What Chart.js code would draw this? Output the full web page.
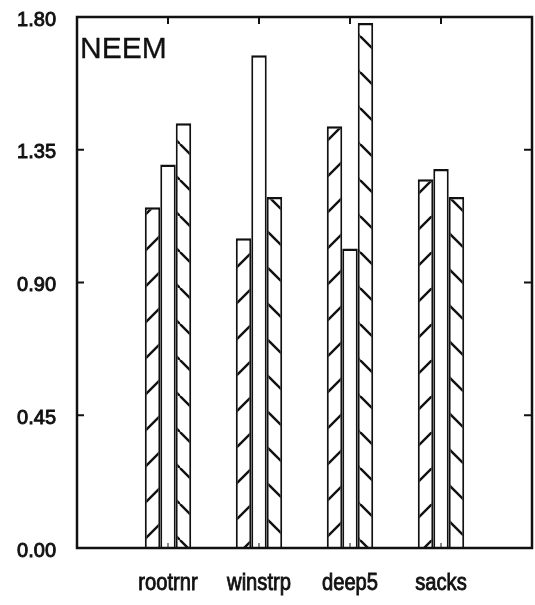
<!DOCTYPE html>
<html>
<head>
<meta charset="utf-8">
<title>NEEM</title>
<script src="https://cdn.jsdelivr.net/npm/chart.js@4.4.0/dist/chart.umd.min.js"></script>
<style>
  html, body { margin: 0; padding: 0; background: #fff; }
  canvas { display: block; }
</style>
</head>
<body>
<canvas id="chart" width="535" height="605"></canvas>
<script>
// NEEM: three treatments per site
const categories = ['rootrnr', 'winstrp', 'deep5', 'sacks'];
const seriesA = [1.155, 1.05, 1.43, 1.25];   // rising stripes
const seriesB = [1.30, 1.67, 1.015, 1.285];  // open bars
const seriesC = [1.44, 1.19, 1.78, 1.19];    // falling stripes
const yTicks = [0, 0.45, 0.90, 1.35, 1.80];
const panelTitle = 'NEEM';

const INK = '#111';
const FONT = '"Liberation Sans", Arial, sans-serif';

const canvas = document.getElementById('chart');
const ctx = canvas.getContext('2d');

// diagonal stripe fill, dir > 0 rises to the right
function hatch(dir) {
    const size = 36;
    const tile = document.createElement('canvas');
    tile.width = size;
    tile.height = size;
    const g = tile.getContext('2d');
    g.fillStyle = '#fff';
    g.fillRect(0, 0, size, size);
    g.strokeStyle = INK;
    g.lineWidth = 2.4;
    for (let k = -1; k <= 1; k++) {
        g.beginPath();
        if (dir > 0) {
            g.moveTo(k * size, size);
            g.lineTo(k * size + size, 0);
        } else {
            g.moveTo(k * size, 0);
            g.lineTo(k * size + size, size);
        }
        g.stroke();
    }
    return ctx.createPattern(tile, 'repeat');
}

// empty slots at both ends put the sites at 1..4 on a 0..5 axis
const labels = ['', ...categories, ''];
const pad = arr => [null, ...arr, null];

const barStyle = {
    borderColor: INK,
    borderWidth: { top: 2.5, left: 2, right: 2, bottom: 0 },
    borderSkipped: false,
    categoryPercentage: 0.51,
    barPercentage: 1.0
};

function line(c, x1, y1, x2, y2) {
    c.beginPath();
    c.moveTo(x1, y1);
    c.lineTo(x2, y2);
    c.stroke();
}

function noPadding(s) {
    s.paddingTop = 0;
    s.paddingBottom = 0;
    s.paddingLeft = 0;
    s.paddingRight = 0;
}

function inkText(c, text, px, py) {
    c.fillText(text, px, py);
    c.strokeText(text, px, py);
}

// box, inward ticks, site names and panel title
const framePlugin = {
    id: 'frame',
    afterDatasetsDraw(chart) {
        const { ctx: c, chartArea: a, scales: { x, y } } = chart;
        c.save();
        c.strokeStyle = INK;
        c.lineWidth = 2.5;
        c.strokeRect(a.left, a.top, a.right - a.left, a.bottom - a.top);

        c.lineWidth = 2;
        yTicks.slice(1, -1).forEach(v => {
            const py = y.getPixelForValue(v);
            line(c, a.left, py, a.left + 7, py);
            line(c, a.right, py, a.right - 8, py);
        });
        categories.forEach((_, i) => {
            const px = x.getPixelForValue(i + 1);
            c.lineWidth = 2;
            line(c, px, a.top, px, a.top + 7);
            c.lineWidth = 1;
            line(c, px, a.bottom, px, a.bottom - 5);
        });

        // condensed site names under each group
        c.fillStyle = INK;
        c.lineWidth = 0.9;
        c.font = `24px ${FONT}`;
        c.textAlign = 'center';
        c.textBaseline = 'alphabetic';
        categories.forEach((name, i) => {
            const px = x.getPixelForValue(i + 1);
            c.save();
            c.translate(px, a.bottom + 42);
            c.scale(0.84, 1);
            inkText(c, name, 0, 0);
            c.restore();
        });

        c.font = `30px ${FONT}`;
        c.textAlign = 'left';
        c.lineWidth = 0.3;
        inkText(c, panelTitle, a.left + 3, a.top + 41);
        c.restore();
    }
};

new Chart(ctx, {
    type: 'bar',
    data: {
        labels: labels,
        datasets: [
            { label: 'a', data: pad(seriesA), backgroundColor: hatch(1), ...barStyle },
            { label: 'b', data: pad(seriesB), backgroundColor: '#fff', ...barStyle },
            { label: 'c', data: pad(seriesC), backgroundColor: hatch(-1), ...barStyle }
        ]
    },
    options: {
        responsive: false,
        animation: false,
        layout: { padding: { top: 17, right: 3, left: 0, bottom: 0 } },
        plugins: {
            legend: { display: false },
            tooltip: { enabled: false }
        },
        scales: {
            x: {
                offset: false,
                border: { display: false },
                grid: { display: false, drawTicks: false },
                ticks: { display: false },
                afterFit: s => { s.height = 57; noPadding(s); }
            },
            y: {
                min: 0,
                max: 1.8,
                border: { display: false },
                grid: { display: false, drawTicks: false },
                ticks: {
                    color: INK,
                    font: { family: FONT, size: 20 },
                    textStrokeColor: INK,
                    textStrokeWidth: 0.9,
                    padding: 21,
                    labelOffset: 3,
                    callback: v => Number(v).toFixed(2)
                },
                afterBuildTicks: s => { s.ticks = yTicks.map(v => ({ value: v })); },
                afterFit: s => { s.width = 77; noPadding(s); }
            }
        }
    },
    plugins: [framePlugin]
});
</script>
</body>
</html>
